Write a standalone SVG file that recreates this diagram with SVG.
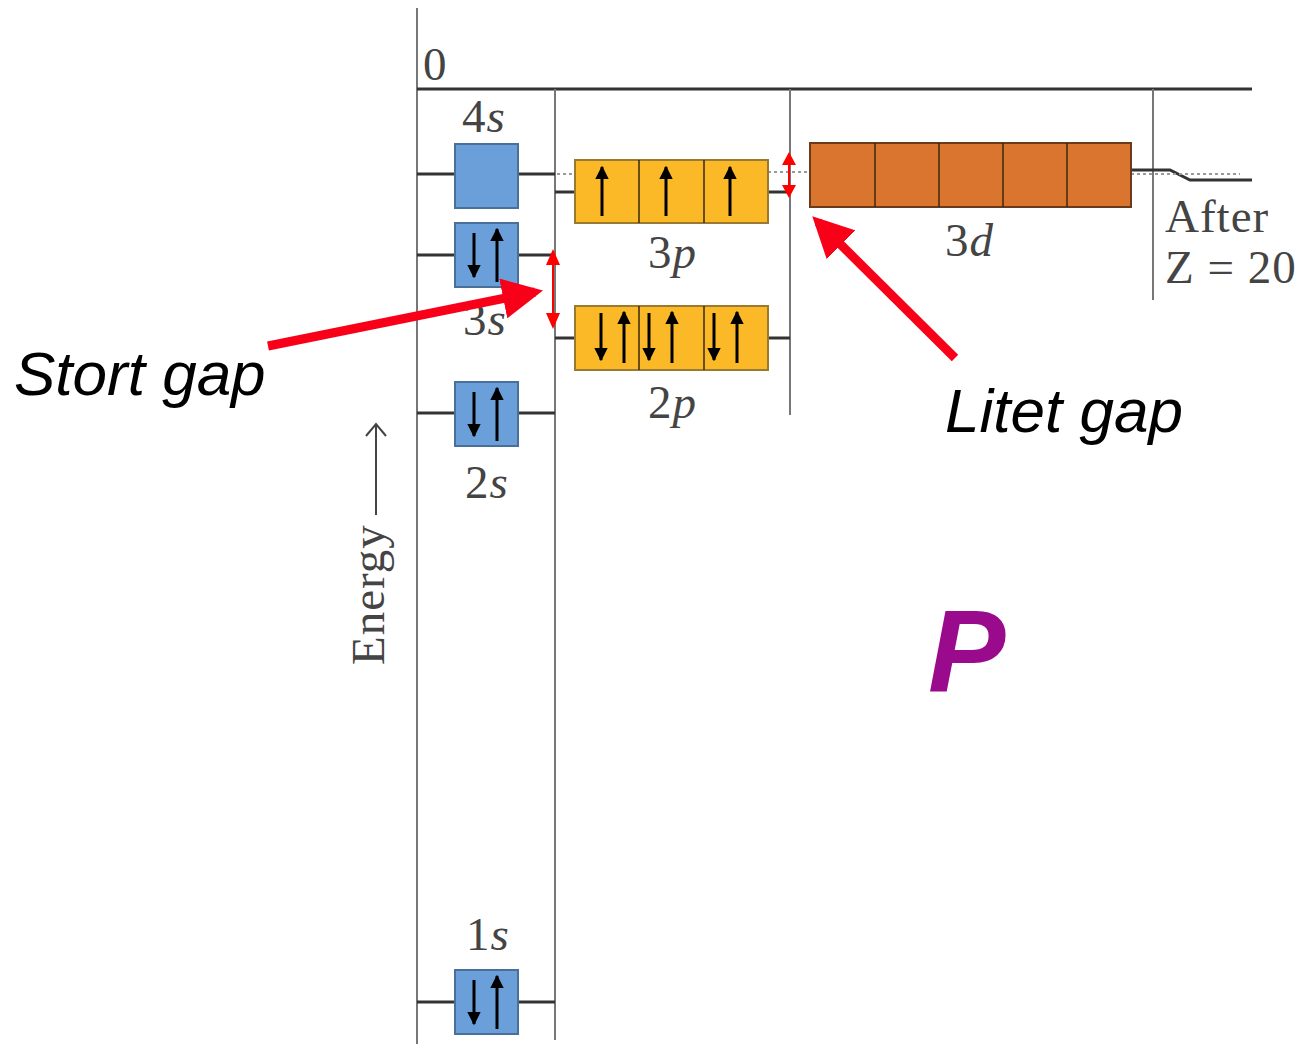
<svg xmlns="http://www.w3.org/2000/svg" width="1305" height="1044" viewBox="0 0 1305 1044">
<style>
.frame{stroke:#777;stroke-width:2;fill:none}
.lvl{stroke:#333;stroke-width:3;fill:none}
.dot{stroke:#999;stroke-width:2;stroke-dasharray:3 3;fill:none}
.s{fill:#6b9fd9;stroke:#4a6f99;stroke-width:2}
.p{fill:#fbb928;stroke:#9a7a30;stroke-width:2}
.d{fill:#d9752f;stroke:#6a3a1a;stroke-width:2}
.cell{stroke:#3a2a10;stroke-width:1.5}
.lbl{font-family:"Liberation Serif",serif;font-size:47px;fill:#444;letter-spacing:1px}
.sp{stroke:#000;stroke-width:3;fill:none}
.red{stroke:#f00;stroke-width:2;fill:none}
.big{stroke:#f80018;stroke-width:9;fill:none}
.note{font-family:"Liberation Sans",sans-serif;font-style:italic;font-size:62px;fill:#000}
</style>
<defs>
<marker id="ah" viewBox="0 0 10 10" refX="9" refY="5" markerWidth="4.5" markerHeight="5" orient="auto" markerUnits="strokeWidth"><path d="M0,0 L10,5 L0,10 z" fill="#000"/></marker>
<marker id="bh" viewBox="0 0 10 10" refX="8" refY="5" markerWidth="4.5" markerHeight="4.5" orient="auto" markerUnits="strokeWidth"><path d="M0,0 L10,5 L0,10 z" fill="#f80018"/></marker>
</defs>

<g id="frame">
<line class="frame" x1="417" y1="8" x2="417" y2="1044"/>
<line x1="417" y1="89" x2="1252" y2="89" stroke="#333" stroke-width="3"/>
<line class="frame" x1="555" y1="89" x2="555" y2="1040"/>
<line class="frame" x1="790" y1="89" x2="790" y2="415"/>
<line class="frame" x1="1153" y1="89" x2="1153" y2="300"/>
<text class="lbl" x="423" y="80">0</text>
</g>

<g id="energy">
<text class="lbl" transform="translate(384,665) rotate(-90)" font-size="46">Energy</text>
<line x1="376" y1="515" x2="376" y2="424" stroke="#444" stroke-width="2"/>
<path d="M366,436 L376,424 L386,436" stroke="#444" stroke-width="2" fill="none"/>
</g>

<g id="connectors">
<line class="lvl" x1="417" y1="174" x2="455" y2="174"/>
<line class="lvl" x1="518" y1="174" x2="555" y2="174"/>
<line class="dot" x1="557" y1="174" x2="575" y2="174"/>
<line class="lvl" x1="417" y1="255" x2="455" y2="255"/>
<line class="lvl" x1="518" y1="255" x2="555" y2="255"/>
<line class="lvl" x1="417" y1="413" x2="455" y2="413"/>
<line class="lvl" x1="518" y1="413" x2="555" y2="413"/>
<line class="lvl" x1="417" y1="1002" x2="455" y2="1002"/>
<line class="lvl" x1="518" y1="1002" x2="555" y2="1002"/>
<line class="lvl" x1="555" y1="192" x2="575" y2="192"/>
<line class="lvl" x1="768" y1="192" x2="790" y2="192"/>
<line class="dot" x1="768" y1="172" x2="810" y2="172"/>
<line class="lvl" x1="555" y1="338" x2="575" y2="338"/>
<line class="lvl" x1="768" y1="338" x2="790" y2="338"/>
<path class="lvl" d="M1131,170 L1170,170 L1190,180 L1252,180"/>
<line class="dot" x1="1131" y1="174" x2="1240" y2="174"/>
</g>

<g id="orb4s">
<rect class="s" x="455" y="144" width="63" height="64"/>
<text class="lbl" x="462" y="132">4<tspan font-style="italic">s</tspan></text>
</g>

<g id="orb3s">
<rect class="s" x="455" y="223" width="63" height="64"/>
<line class="sp" x1="474" y1="233" x2="474" y2="277" marker-end="url(#ah)"/>
<line class="sp" x1="497" y1="282" x2="497" y2="229" marker-end="url(#ah)"/>
<text class="lbl" x="463" y="335">3<tspan font-style="italic">s</tspan></text>
</g>

<g id="orb2s">
<rect class="s" x="455" y="382" width="63" height="64"/>
<line class="sp" x1="474" y1="392" x2="474" y2="436" marker-end="url(#ah)"/>
<line class="sp" x1="497" y1="441" x2="497" y2="388" marker-end="url(#ah)"/>
<text class="lbl" x="465" y="498">2<tspan font-style="italic">s</tspan></text>
</g>

<g id="orb1s">
<rect class="s" x="455" y="970" width="63" height="64"/>
<line class="sp" x1="474" y1="980" x2="474" y2="1024" marker-end="url(#ah)"/>
<line class="sp" x1="497" y1="1029" x2="497" y2="976" marker-end="url(#ah)"/>
<text class="lbl" x="466" y="950">1<tspan font-style="italic">s</tspan></text>
</g>

<g id="orb3p">
<rect class="p" x="575" y="160" width="193" height="63"/>
<line class="cell" x1="639" y1="160" x2="639" y2="223"/>
<line class="cell" x1="704" y1="160" x2="704" y2="223"/>
<line class="sp" x1="602" y1="216" x2="602" y2="167" marker-end="url(#ah)"/>
<line class="sp" x1="666" y1="216" x2="666" y2="167" marker-end="url(#ah)"/>
<line class="sp" x1="730" y1="216" x2="730" y2="167" marker-end="url(#ah)"/>
<text class="lbl" x="648" y="268">3<tspan font-style="italic">p</tspan></text>
</g>

<g id="orb2p">
<rect class="p" x="575" y="306" width="193" height="64"/>
<line class="cell" x1="639" y1="306" x2="639" y2="370"/>
<line class="cell" x1="704" y1="306" x2="704" y2="370"/>
<line class="sp" x1="601" y1="313" x2="601" y2="360" marker-end="url(#ah)"/>
<line class="sp" x1="624" y1="363" x2="624" y2="312" marker-end="url(#ah)"/>
<line class="sp" x1="649" y1="313" x2="649" y2="360" marker-end="url(#ah)"/>
<line class="sp" x1="672" y1="363" x2="672" y2="312" marker-end="url(#ah)"/>
<line class="sp" x1="714" y1="313" x2="714" y2="360" marker-end="url(#ah)"/>
<line class="sp" x1="737" y1="363" x2="737" y2="312" marker-end="url(#ah)"/>
<text class="lbl" x="648" y="418">2<tspan font-style="italic">p</tspan></text>
</g>

<g id="orb3d">
<rect class="d" x="810" y="143" width="321" height="64"/>
<line class="cell" x1="875" y1="143" x2="875" y2="207"/>
<line class="cell" x1="939" y1="143" x2="939" y2="207"/>
<line class="cell" x1="1003" y1="143" x2="1003" y2="207"/>
<line class="cell" x1="1067" y1="143" x2="1067" y2="207"/>
<text class="lbl" x="945" y="256">3<tspan font-style="italic">d</tspan></text>
</g>

<g id="after">
<text class="lbl" x="1165" y="232">After</text>
<text class="lbl" x="1165" y="283">Z = 20</text>
</g>

<g id="gaps">
<line class="red" x1="553" y1="262" x2="553" y2="316"/>
<path d="M546,265 L553,249 L560,265 z M546,313 L553,329 L560,313 z" fill="#f00"/>
<line class="red" x1="789" y1="162" x2="789" y2="188"/>
<path d="M782,165 L789,152 L796,165 z M782,185 L789,198 L796,185 z" fill="#f00"/>
<line class="big" x1="268" y1="346" x2="535" y2="292" marker-end="url(#bh)"/>
<line class="big" x1="955" y1="358" x2="818" y2="222" marker-end="url(#bh)"/>
<text class="note" x="14" y="395">Stort gap</text>
<text class="note" x="945" y="432">Litet gap</text>
</g>

<g id="element">
<text x="928" y="691" font-family="Liberation Sans,sans-serif" font-weight="bold" font-style="italic" font-size="116" fill="#990a8c">P</text>
</g>
</svg>
